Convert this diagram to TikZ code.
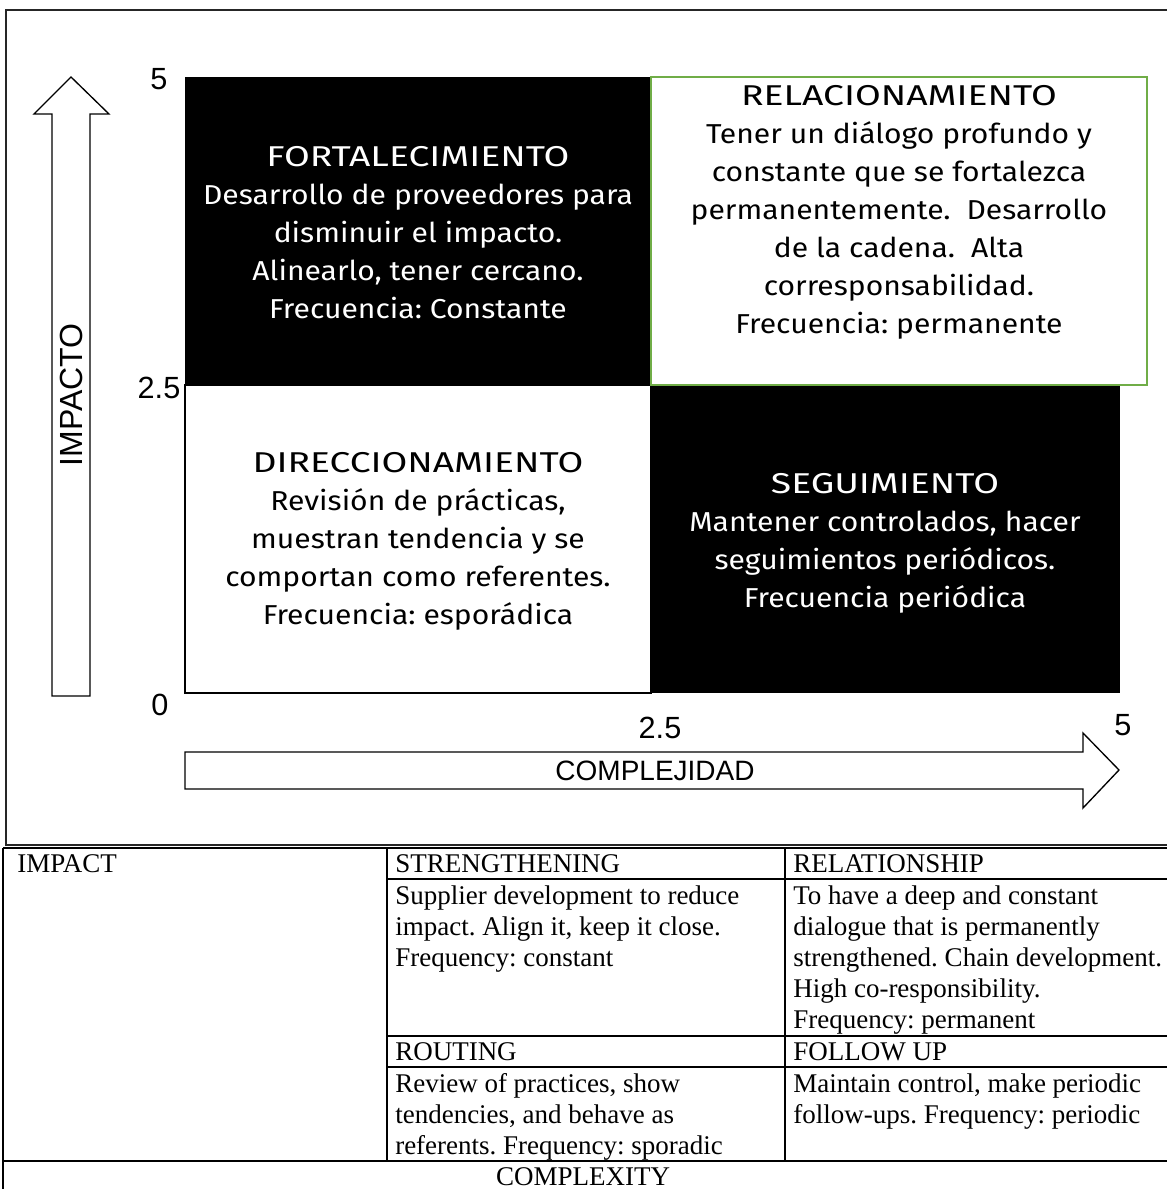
\documentclass[tikz,border=0pt]{standalone}
\usepackage{fontspec}
\setmainfont{Liberation Serif}
\newfontfamily\quadfont{Fira Sans}[FakeStretch=1.1]
\newfontfamily\quadtitle{Fira Sans}[FakeStretch=1.3]
\newfontfamily\axisfont{Liberation Sans}
\definecolor{boxgreen}{RGB}{112,173,71}

\begin{document}
\frenchspacing
\begin{tikzpicture}[x=0.75pt, y=-0.75pt,
  quadtext/.style={align=center, inner sep=0pt, font=\quadfont\fontsize{20.5}{28.5}\selectfont},
  axistext/.style={inner sep=0pt, font=\axisfont\fontsize{23}{26}\selectfont},
  axisname/.style={inner sep=0pt, font=\axisfont\fontsize{21}{24}\selectfont},
  celltext/.style={anchor=north west, align=left, inner sep=0pt, font=\fontsize{20.25}{23.25}\selectfont},
  blockarrow/.style={draw, line width=1pt, fill=white},
  rule/.style={line width=0.8pt}]
\useasboundingbox (0,0) rectangle (1167,1189);
\fill[white] (0,0) rectangle (1167,1189);

% outer frame of the chart
\draw[line width=0.9pt, black!85] (6,10) rectangle (1185,845);

% quadrants
\fill[black] (185,77) rectangle (651,385);
\fill[black] (651,385) rectangle (1120,693);
\draw[line width=1pt] (185,385) rectangle (651,693);
\draw[line width=1pt, boxgreen] (651,77) rectangle (1147,385);

\node (fortalecimiento) [quadtext, text=white] at (418,233)
  {{\quadtitle\fontsize{21.5}{28.5}\selectfont FORTALECIMIENTO}\\Desarrollo de proveedores para\\disminuir el impacto.\\Alinearlo, tener cercano.\\Frecuencia: Constante};
\node (relacionamiento) [quadtext] at (899,212)
  {{\quadtitle\fontsize{21.5}{28.5}\selectfont RELACIONAMIENTO}\\Tener un diálogo profundo y\\constante que se fortalezca\\permanentemente.\ \ Desarrollo\\de la cadena.\ \ Alta\\corresponsabilidad.\\Frecuencia: permanente};
\node (direccionamiento) [quadtext] at (418,541)
  {{\quadtitle\fontsize{21.5}{28.5}\selectfont DIRECCIONAMIENTO}\\Revisión de prácticas,\\muestran tendencia y se\\comportan como referentes.\\Frecuencia: esporádica};
\node (seguimiento) [quadtext, text=white] at (885,543)
  {{\quadtitle\fontsize{21.5}{28.5}\selectfont SEGUIMIENTO}\\Mantener controlados, hacer\\seguimientos periódicos.\\Frecuencia periódica};

% axes
\draw[blockarrow] (52,696) -- (52,114) -- (34,114) -- (71,77) -- (109,114) -- (90,114) -- (90,696) -- cycle;
\draw[blockarrow] (185,752) -- (1083,752) -- (1083,733) -- (1119,770) -- (1083,808) -- (1083,789) -- (185,789) -- cycle;
\node (impacto) [axisname, rotate=90, font=\axisfont\fontsize{24}{26}\selectfont] at (71,395) {IMPACTO};
\node (complejidad) [axisname] at (655,771) {COMPLEJIDAD};

\node (ymax) [axistext] at (159,79) {5};
\node (ymid) [axistext] at (159,388) {2.5};
\node (yzero) [axistext] at (160,705) {0};
\node (xmid) [axistext] at (660,728) {2.5};
\node (xmax) [axistext] at (1123,725) {5};

% table below
\draw[rule] (3,848) -- (1185,848);
\draw[rule] (3,848) -- (3,1195);
\draw[rule] (387,848) -- (387,1161);
\draw[rule] (785,848) -- (785,1161);
\draw[line width=1.3pt] (387,879) -- (1185,879);
\draw[line width=1.3pt] (387,1036) -- (1185,1036);
\draw[line width=1.3pt] (387,1067) -- (1185,1067);
\draw[line width=1.3pt] (3,1161) -- (1185,1161);

\node (impactcell) [celltext] at (17,854) {IMPACT};
\node (strengthhead) [celltext] at (395,854) {STRENGTHENING};
\node (relhead) [celltext] at (793,854) {RELATIONSHIP};
\node (strengthbody) [celltext] at (395,885)
  {Supplier development to reduce\\impact. Align it, keep it close.\\Frequency: constant};
\node (relbody) [celltext] at (793,885)
  {To have a deep and constant\\dialogue that is permanently\\strengthened. Chain development.\\High co-responsibility.\\Frequency: permanent};
\node (routhead) [celltext] at (395,1042) {ROUTING};
\node (followhead) [celltext] at (793,1042) {FOLLOW UP};
\node (routbody) [celltext] at (395,1073)
  {Review of practices, show\\tendencies, and behave as\\referents. Frequency: sporadic};
\node (followbody) [celltext] at (793,1073)
  {Maintain control, make periodic\\follow-ups. Frequency: periodic};
\node (complexcell) [celltext, anchor=north] at (583,1167) {COMPLEXITY};
\end{tikzpicture}
\end{document}
